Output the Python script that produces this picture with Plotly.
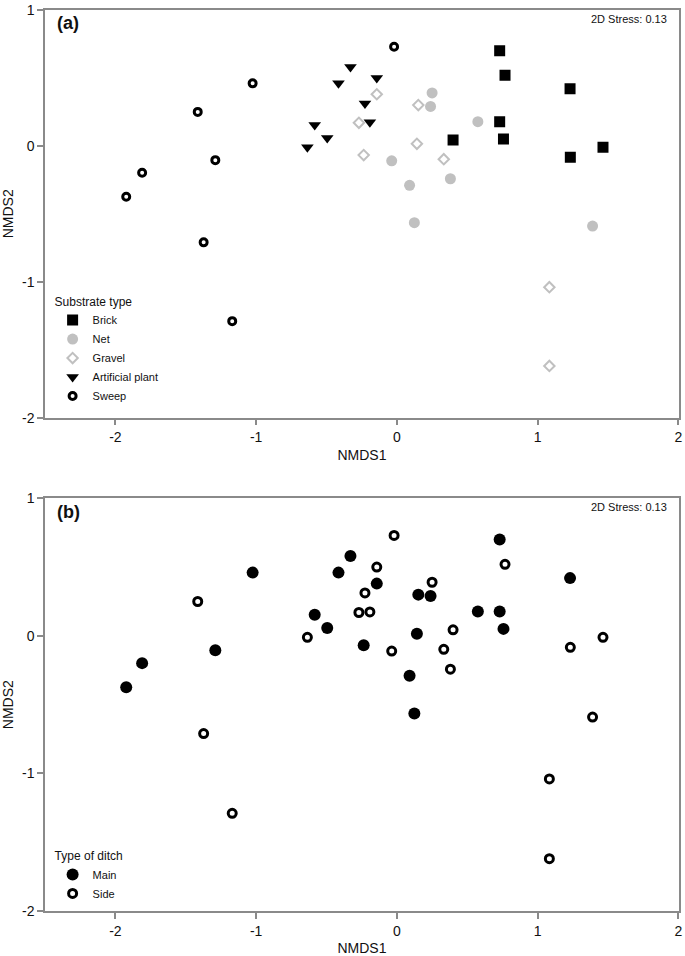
import plotly.graph_objects as go

# NMDS ordination scores (same samples plotted in both panels)
nmds1 = [0.73, 0.768, 1.23, 0.73, 0.399, 0.757, 1.464, 1.232,
         0.25, 0.239, 0.575, -0.037, 0.38, 0.09, 0.124, 1.39,
         -0.143, 0.152, -0.27, 0.142, -0.236, 0.333, 1.083, 1.083,
         -0.33, -0.415, -0.143, -0.227, -0.192, -0.584, -0.495, -0.636,
         -0.02, -1.025, -1.415, -1.29, -1.923, -1.81, -1.373, -1.17]
nmds2 = [0.70, 0.52, 0.42, 0.178, 0.044, 0.051, -0.01, -0.083,
         0.39, 0.29, 0.178, -0.11, -0.242, -0.29, -0.565, -0.59,
         0.38, 0.30, 0.17, 0.015, -0.068, -0.098, -1.04, -1.62,
         0.58, 0.46, 0.50, 0.312, 0.174, 0.154, 0.058, -0.01,
         0.73, 0.46, 0.25, -0.105, -0.374, -0.198, -0.71, -1.29]
substrate = (["Brick"] * 8 + ["Net"] * 8 + ["Gravel"] * 8
             + ["Artificial plant"] * 8 + ["Sweep"] * 8)
ditch = ["Main", "Side", "Main", "Main", "Side", "Main", "Side", "Side",
         "Side", "Main", "Main", "Side", "Side", "Main", "Main", "Side",
         "Main", "Main", "Side", "Main", "Main", "Side", "Side", "Side",
         "Main", "Main", "Side", "Side", "Side", "Main", "Main", "Side",
         "Side", "Main", "Side", "Main", "Main", "Main", "Side", "Side"]

substrate_types = ["Brick", "Net", "Gravel", "Artificial plant", "Sweep"]
ditch_types = ["Main", "Side"]
stress_text = "2D Stress: 0.13"
x_ticks = [-2, -1, 0, 1, 2]
x_ticktext = ["-2", "-1", "0", "1", "2"]
y_ticks = [-2, -1, 0, 1]
y_ticktext = ["-2", "-1", "0", "1"]

GRAY = "#c0c0c0"
sub_style = {
    "Brick": dict(symbol="square", size=11, color="black", line=dict(width=0)),
    "Net": dict(symbol="circle", size=11, color=GRAY, line=dict(width=0)),
    "Gravel": dict(symbol="diamond-open", size=8, color=GRAY, line=dict(width=2, color=GRAY)),
    "Artificial plant": dict(symbol="triangle-down", size=11, color="black", line=dict(width=0)),
    "Sweep": dict(symbol="circle-open", size=7, color="black", line=dict(width=3, color="black")),
}
ditch_style = {
    "Main": dict(symbol="circle", size=12, color="black", line=dict(width=0)),
    "Side": dict(symbol="circle-open", size=8, color="black", line=dict(width=3, color="black")),
}

fig = go.Figure()
for s in substrate_types:
    xs = [x for x, g in zip(nmds1, substrate) if g == s]
    ys = [y for y, g in zip(nmds2, substrate) if g == s]
    fig.add_trace(go.Scatter(x=xs, y=ys, mode="markers", name=s,
                             marker=sub_style[s], xaxis="x", yaxis="y",
                             legend="legend"))
for d in ditch_types:
    xs = [x for x, g in zip(nmds1, ditch) if g == d]
    ys = [y for y, g in zip(nmds2, ditch) if g == d]
    fig.add_trace(go.Scatter(x=xs, y=ys, mode="markers", name=d,
                             marker=ditch_style[d], xaxis="x2", yaxis="y2",
                             legend="legend2"))

FONT = "Liberation Sans, Arial, sans-serif"
AX = "#8a8a8a"
common_x = dict(range=[-2.5, 2.004], tickvals=x_ticks, ticktext=x_ticktext,
                showgrid=False, zeroline=False,
                showline=True, linecolor=AX, linewidth=1.5, mirror=True,
                ticks="outside", ticklen=6, tickcolor=AX, tickwidth=1.5,
                tickfont=dict(size=14, color="#111"),
                title=dict(text="NMDS1", font=dict(size=14, color="#111"), standoff=6))
common_y = dict(range=[-2, 1], tickvals=y_ticks, ticktext=y_ticktext,
                showgrid=False, zeroline=False,
                showline=True, linecolor=AX, linewidth=1.5, mirror=True,
                ticks="outside", ticklen=6, tickcolor=AX, tickwidth=1.5,
                tickfont=dict(size=14, color="#111"),
                title=dict(text="NMDS2", font=dict(size=14, color="#111"), standoff=8))

fig.update_layout(
    width=685, height=956,
    margin=dict(l=45, r=2, t=9, b=43),
    paper_bgcolor="white", plot_bgcolor="white",
    font=dict(family=FONT, color="#111"),
    xaxis=dict(domain=[0, 1], anchor="y", **common_x),
    yaxis=dict(domain=[0.5476, 1], anchor="x", **common_y),
    xaxis2=dict(domain=[0, 1], anchor="y2", **common_x),
    yaxis2=dict(domain=[0, 0.458], anchor="x2", **common_y),
    legend=dict(x=0.012, y=0.555, xanchor="left", yanchor="bottom",
                bgcolor="rgba(0,0,0,0)", font=dict(size=11, color="#111"),
                title=dict(text="Substrate type", font=dict(size=12, color="#111")),
                tracegroupgap=0),
    legend2=dict(x=0.012, y=0.003, xanchor="left", yanchor="bottom",
                 bgcolor="rgba(0,0,0,0)", font=dict(size=11, color="#111"),
                 title=dict(text="Type of ditch", font=dict(size=12, color="#111")),
                 tracegroupgap=0),
    annotations=[
        dict(text="<b>(a)</b>", xref="x domain", yref="y domain", x=0.015, y=0.968,
             xanchor="left", yanchor="middle", showarrow=False, font=dict(size=18)),
        dict(text=stress_text, xref="x domain", yref="y domain", x=0.984, y=0.978,
             xanchor="right", yanchor="middle", showarrow=False, font=dict(size=11)),
        dict(text="<b>(b)</b>", xref="x2 domain", yref="y2 domain", x=0.015, y=0.966,
             xanchor="left", yanchor="middle", showarrow=False, font=dict(size=18)),
        dict(text=stress_text, xref="x2 domain", yref="y2 domain", x=0.984, y=0.978,
             xanchor="right", yanchor="middle", showarrow=False, font=dict(size=11)),
    ],
)

fig.write_html("out.html", config={"displayModeBar": False},
               post_script="document.body.style.margin='0';document.body.style.overflow='hidden';")
